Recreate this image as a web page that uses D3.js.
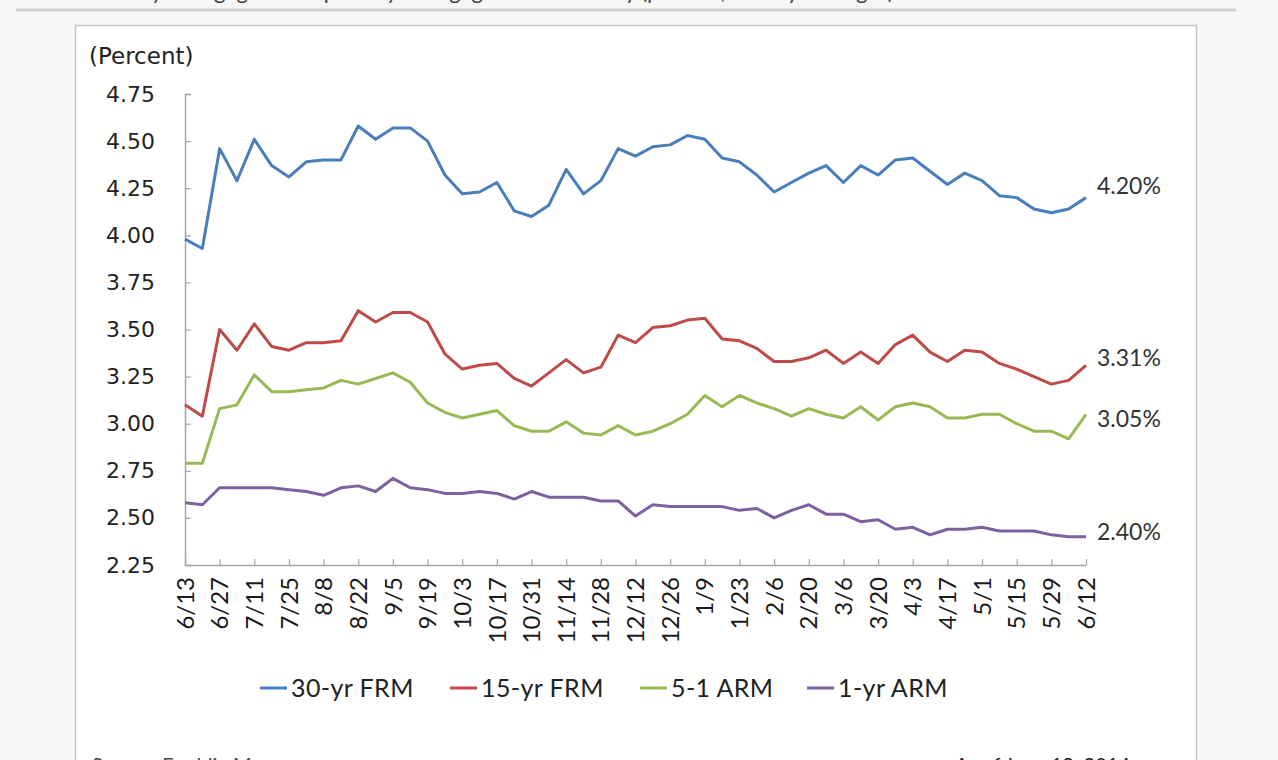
<!DOCTYPE html>
<html>
<head>
<meta charset="utf-8">
<script src="https://cdn.jsdelivr.net/npm/d3@7"></script>
<style>
  html, body { margin: 0; padding: 0; background: #f6f6f6; }
  svg { display: block; }
</style>
</head>
<body>
<svg id="chart" width="1278" height="760"></svg>
<script>
const dates = ["6/13","6/20","6/27","7/4","7/11","7/18","7/25","8/1","8/8","8/15","8/22","8/29",
  "9/5","9/12","9/19","9/26","10/3","10/10","10/17","10/24","10/31","11/7","11/14","11/21",
  "11/28","12/5","12/12","12/19","12/26","1/2","1/9","1/16","1/23","1/30","2/6","2/13","2/20",
  "2/27","3/6","3/13","3/20","3/27","4/3","4/10","4/17","4/24","5/1","5/8","5/15","5/22",
  "5/29","6/5","6/12"];

const frm30 = [3.98,3.93,4.46,4.29,4.51,4.37,4.31,4.39,4.40,4.40,4.58,4.51,4.57,4.57,4.50,4.32,
  4.22,4.23,4.28,4.13,4.10,4.16,4.35,4.22,4.29,4.46,4.42,4.47,4.48,4.53,4.51,4.41,4.39,4.32,
  4.23,4.28,4.33,4.37,4.28,4.37,4.32,4.40,4.41,4.34,4.27,4.33,4.29,4.21,4.20,4.14,4.12,4.14,4.20];

const frm15 = [3.10,3.04,3.50,3.39,3.53,3.41,3.39,3.43,3.43,3.44,3.60,3.54,3.59,3.59,3.54,3.37,
  3.29,3.31,3.32,3.24,3.20,3.27,3.34,3.27,3.30,3.47,3.43,3.51,3.52,3.55,3.56,3.45,3.44,3.40,
  3.33,3.33,3.35,3.39,3.32,3.38,3.32,3.42,3.47,3.38,3.33,3.39,3.38,3.32,3.29,3.25,3.21,3.23,3.31];

const arm51 = [2.79,2.79,3.08,3.10,3.26,3.17,3.17,3.18,3.19,3.23,3.21,3.24,3.27,3.22,3.11,3.06,
  3.03,3.05,3.07,2.99,2.96,2.96,3.01,2.95,2.94,2.99,2.94,2.96,3.00,3.05,3.15,3.09,3.15,3.11,
  3.08,3.04,3.08,3.05,3.03,3.09,3.02,3.09,3.11,3.09,3.03,3.03,3.05,3.05,3.00,2.96,2.96,2.92,3.05];

const arm1 = [2.58,2.57,2.66,2.66,2.66,2.66,2.65,2.64,2.62,2.66,2.67,2.64,2.71,2.66,2.65,2.63,
  2.63,2.64,2.63,2.60,2.64,2.61,2.61,2.61,2.59,2.59,2.51,2.57,2.56,2.56,2.56,2.56,2.54,2.55,
  2.50,2.54,2.57,2.52,2.52,2.48,2.49,2.44,2.45,2.41,2.44,2.44,2.45,2.43,2.43,2.43,2.41,2.40,2.40];

const seriesNames = ["30-yr FRM","15-yr FRM","5-1 ARM","1-yr ARM"];
const seriesValues = [frm30, frm15, arm51, arm1];
const seriesColors = ["#4a7ebb","#be4b48","#98b954","#7d60a0"];
const endLabels = ["4.20%","3.31%","3.05%","2.40%"];
const yTicks = [2.25,2.50,2.75,3.00,3.25,3.50,3.75,4.00,4.25,4.50,4.75];
const tickDates = dates.filter((d,i) => i % 2 === 0);

const svg = d3.select("#chart");
const font = "Lato, 'Open Sans', sans-serif";
const wideFont = "'DejaVu Sans', Verdana, sans-serif";

// page elements
svg.append("rect").attr("x",0).attr("y",0).attr("width",1278).attr("height",760).attr("fill","#f6f6f6");
svg.append("text").attr("x",90).attr("y",-1).attr("font-family",font).attr("font-size",22)
  .attr("fill","#444").text("Weekly mortgage rates: primary mortgage market survey (percent, weekly averages)");
svg.append("line").attr("x1",16).attr("x2",1236).attr("y1",10).attr("y2",10)
  .attr("stroke","#cfcfcf").attr("stroke-width",3);
svg.append("rect").attr("x",75.5).attr("y",25.5).attr("width",1121).attr("height",760)
  .attr("fill","#ffffff").attr("stroke","#c4c4c4").attr("stroke-width",1.5);

const x = d3.scalePoint().domain(dates).range([185, 1086]);
const y = d3.scaleLinear().domain([2.25, 4.75]).range([565, 94]);

// y axis
const yAxis = d3.axisLeft(y).tickValues(yTicks).tickFormat(d3.format(".2f")).tickSize(-6).tickPadding(30);
const gy = svg.append("g").attr("transform","translate(185,0)").call(yAxis);
gy.select(".domain").attr("stroke","#a6a6a6").attr("stroke-width",1.5);
gy.selectAll(".tick line").attr("stroke","#a6a6a6").attr("stroke-width",1.2);
gy.selectAll(".tick text").attr("font-family",wideFont).attr("font-size",22).attr("fill","#222");

svg.append("text").attr("x",89).attr("y",64).attr("font-family",wideFont).attr("font-size",23)
  .attr("fill","#222").text("(Percent)");

// x axis
const xAxis = d3.axisBottom(x).tickValues(tickDates).tickSize(-6).tickSizeOuter(0).tickFormat("");
const gx = svg.append("g").attr("transform","translate(0,565)").call(xAxis);
gx.select(".domain").attr("stroke","#a6a6a6").attr("stroke-width",1.5);
gx.selectAll(".tick line").attr("stroke","#a6a6a6").attr("stroke-width",1.2);
svg.append("g").selectAll("text").data(tickDates).join("text")
  .attr("transform", d => `translate(${x(d)},577) rotate(-90)`)
  .attr("text-anchor","end").attr("dy","0.36em")
  .attr("font-family",font).attr("font-size",24).attr("fill","#1a1a1a")
  .text(d => d);

// lines
const endDy = [-12, -7, 5, -5];
const line = d3.line().x((d,i) => x(dates[i])).y(d => y(d));
seriesValues.forEach((vals, k) => {
  svg.append("path").datum(vals).attr("d", line).attr("fill","none")
    .attr("stroke", seriesColors[k]).attr("stroke-width",3).attr("stroke-linejoin","round");
  svg.append("text").attr("x", 1097).attr("y", y(vals[vals.length-1]) + endDy[k])
    .attr("dy","0.35em").attr("font-family",font).attr("font-size",23).attr("fill","#333")
    .text(endLabels[k]);
});

// legend
const legX = [260, 450, 640, 807];
seriesNames.forEach((n,k) => {
  svg.append("line").attr("x1",legX[k]).attr("x2",legX[k]+27).attr("y1",688).attr("y2",688)
    .attr("stroke",seriesColors[k]).attr("stroke-width",3);
  svg.append("text").attr("x",legX[k]+31).attr("y",688).attr("dy","0.35em")
    .attr("font-family",font).attr("font-size",25).attr("letter-spacing",0.4)
    .attr("fill","#222").text(n);
});

// footer
svg.append("text").attr("x",92).attr("y",772).attr("font-family",font).attr("font-size",20)
  .attr("fill","#444").text("Source: Freddie Mac");
svg.append("text").attr("x",1130).attr("y",772).attr("text-anchor","end").attr("font-family",font)
  .attr("font-size",20).attr("fill","#222").text("As of June 12, 2014");
</script>
</body>
</html>
